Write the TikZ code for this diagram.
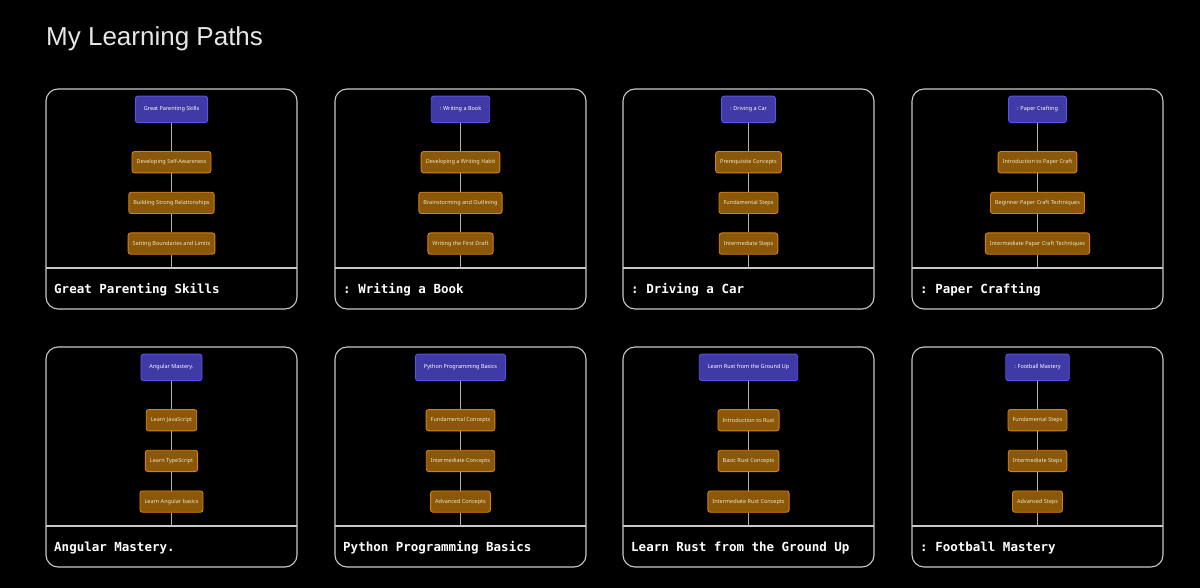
\documentclass[tikz,border=0pt]{standalone}
\usepackage{fontspec}
\setmainfont{Liberation Sans}
\setmonofont{DejaVu Sans Mono}
\newfontfamily\stepfont{Noto Sans}
\usetikzlibrary{positioning}

\definecolor{pagebg}{HTML}{000000}
\definecolor{cardline}{HTML}{C8C8C8}
\definecolor{stemline}{HTML}{B4B4B4}
\definecolor{rootfill}{HTML}{3F3AA6}
\definecolor{rootline}{HTML}{5A52E6}
\definecolor{stepfill}{HTML}{8A5808}
\definecolor{stepline}{HTML}{D68014}
\definecolor{steptext}{HTML}{F2E4C8}
\definecolor{headtext}{HTML}{E6E6E6}

% one learning path card: x, y, name, root, three steps, title
\newcommand{\pathcard}[8]{%
  \node[card] (#3) at (#1,#2) {};
  \node[rootbox, below=6.7pt of #3.north] (#3-root) {#4};
  \node[stepbox, below=28pt of #3-root] (#3-a) {#5};
  \node[stepbox, below=18.5pt of #3-a]  (#3-b) {#6};
  \node[stepbox, below=18.5pt of #3-b]  (#3-c) {#7};
  \coordinate (#3-div) at ([yshift=-179pt]#3.north);
  \draw[rule] (#3.west |- #3-div) -- (#3.east |- #3-div);
  \draw[stem] (#3-root) -- (#3-a);
  \draw[stem] (#3-a) -- (#3-b);
  \draw[stem] (#3-b) -- (#3-c);
  \draw[stem] (#3-c) -- (#3-div);
  \node[cardtitle] (#3-title) at ([xshift=8pt, yshift=-204.3pt]#3.north west) {#8};
}

\begin{document}
\begin{tikzpicture}[
    x=1pt, y=-1pt,
    card/.style={draw=cardline, line width=1.1pt, rounded corners=12pt,
                 minimum width=251pt, minimum height=220pt, anchor=north west,
                 outer sep=0pt},
    rootbox/.style={draw=rootline, fill=rootfill, line width=0.9pt,
                    rounded corners=2.5pt, minimum height=26.5pt, inner xsep=8.5pt,
                    anchor=north, text=white, font=\stepfont\fontsize{5.5}{6.5}\selectfont},
    stepbox/.style={draw=stepline, fill=stepfill, line width=0.9pt,
                    rounded corners=2.5pt, minimum height=21.3pt, inner xsep=4.6pt,
                    anchor=north, text=steptext, font=\stepfont\fontsize{5.5}{6.5}\selectfont},
    rule/.style={draw=cardline, line width=1.1pt},
    stem/.style={draw=stemline, line width=1.3pt},
    cardtitle/.style={anchor=base west, inner sep=0pt, text=white,
                      font=\ttfamily\bfseries\fontsize{12.5}{14}\selectfont},
  ]
  \fill[pagebg] (0,0) rectangle (1200,588);
  \useasboundingbox (0,0) rectangle (1200,588);

  \node[anchor=base west, inner sep=0pt, text=headtext,
        font=\fontsize{26}{30}\selectfont] (heading) at (46,46) {My Learning Paths};

  % first row
  \pathcard{46}{89}{parenting}{Great Parenting Skills}{Developing Self-Awareness}
    {Building Strong Relationships}{Setting Boundaries and Limits}{Great Parenting Skills}
  \pathcard{335}{89}{book}{: Writing a Book}{Developing a Writing Habit}
    {Brainstorming and Outlining}{Writing the First Draft}{: Writing a Book}
  \pathcard{623}{89}{car}{: Driving a Car}{Prerequisite Concepts}
    {Fundamental Steps}{Intermediate Steps}{: Driving a Car}
  \pathcard{912}{89}{paper}{: Paper Crafting}{Introduction to Paper Craft}
    {Beginner Paper Craft Techniques}{Intermediate Paper Craft Techniques}{: Paper Crafting}

  % second row
  \pathcard{46}{347}{angular}{Angular Mastery.}{Learn JavaScript}
    {Learn TypeScript}{Learn Angular basics}{Angular Mastery.}
  \pathcard{335}{347}{python}{Python Programming Basics}{Fundamental Concepts}
    {Intermediate Concepts}{Advanced Concepts}{Python Programming Basics}
  \pathcard{623}{347}{rust}{Learn Rust from the Ground Up}{Introduction to Rust}
    {Basic Rust Concepts}{Intermediate Rust Concepts}{Learn Rust from the Ground Up}
  \pathcard{912}{347}{football}{: Football Mastery}{Fundamental Steps}
    {Intermediate Steps}{Advanced Steps}{: Football Mastery}
\end{tikzpicture}
\end{document}
